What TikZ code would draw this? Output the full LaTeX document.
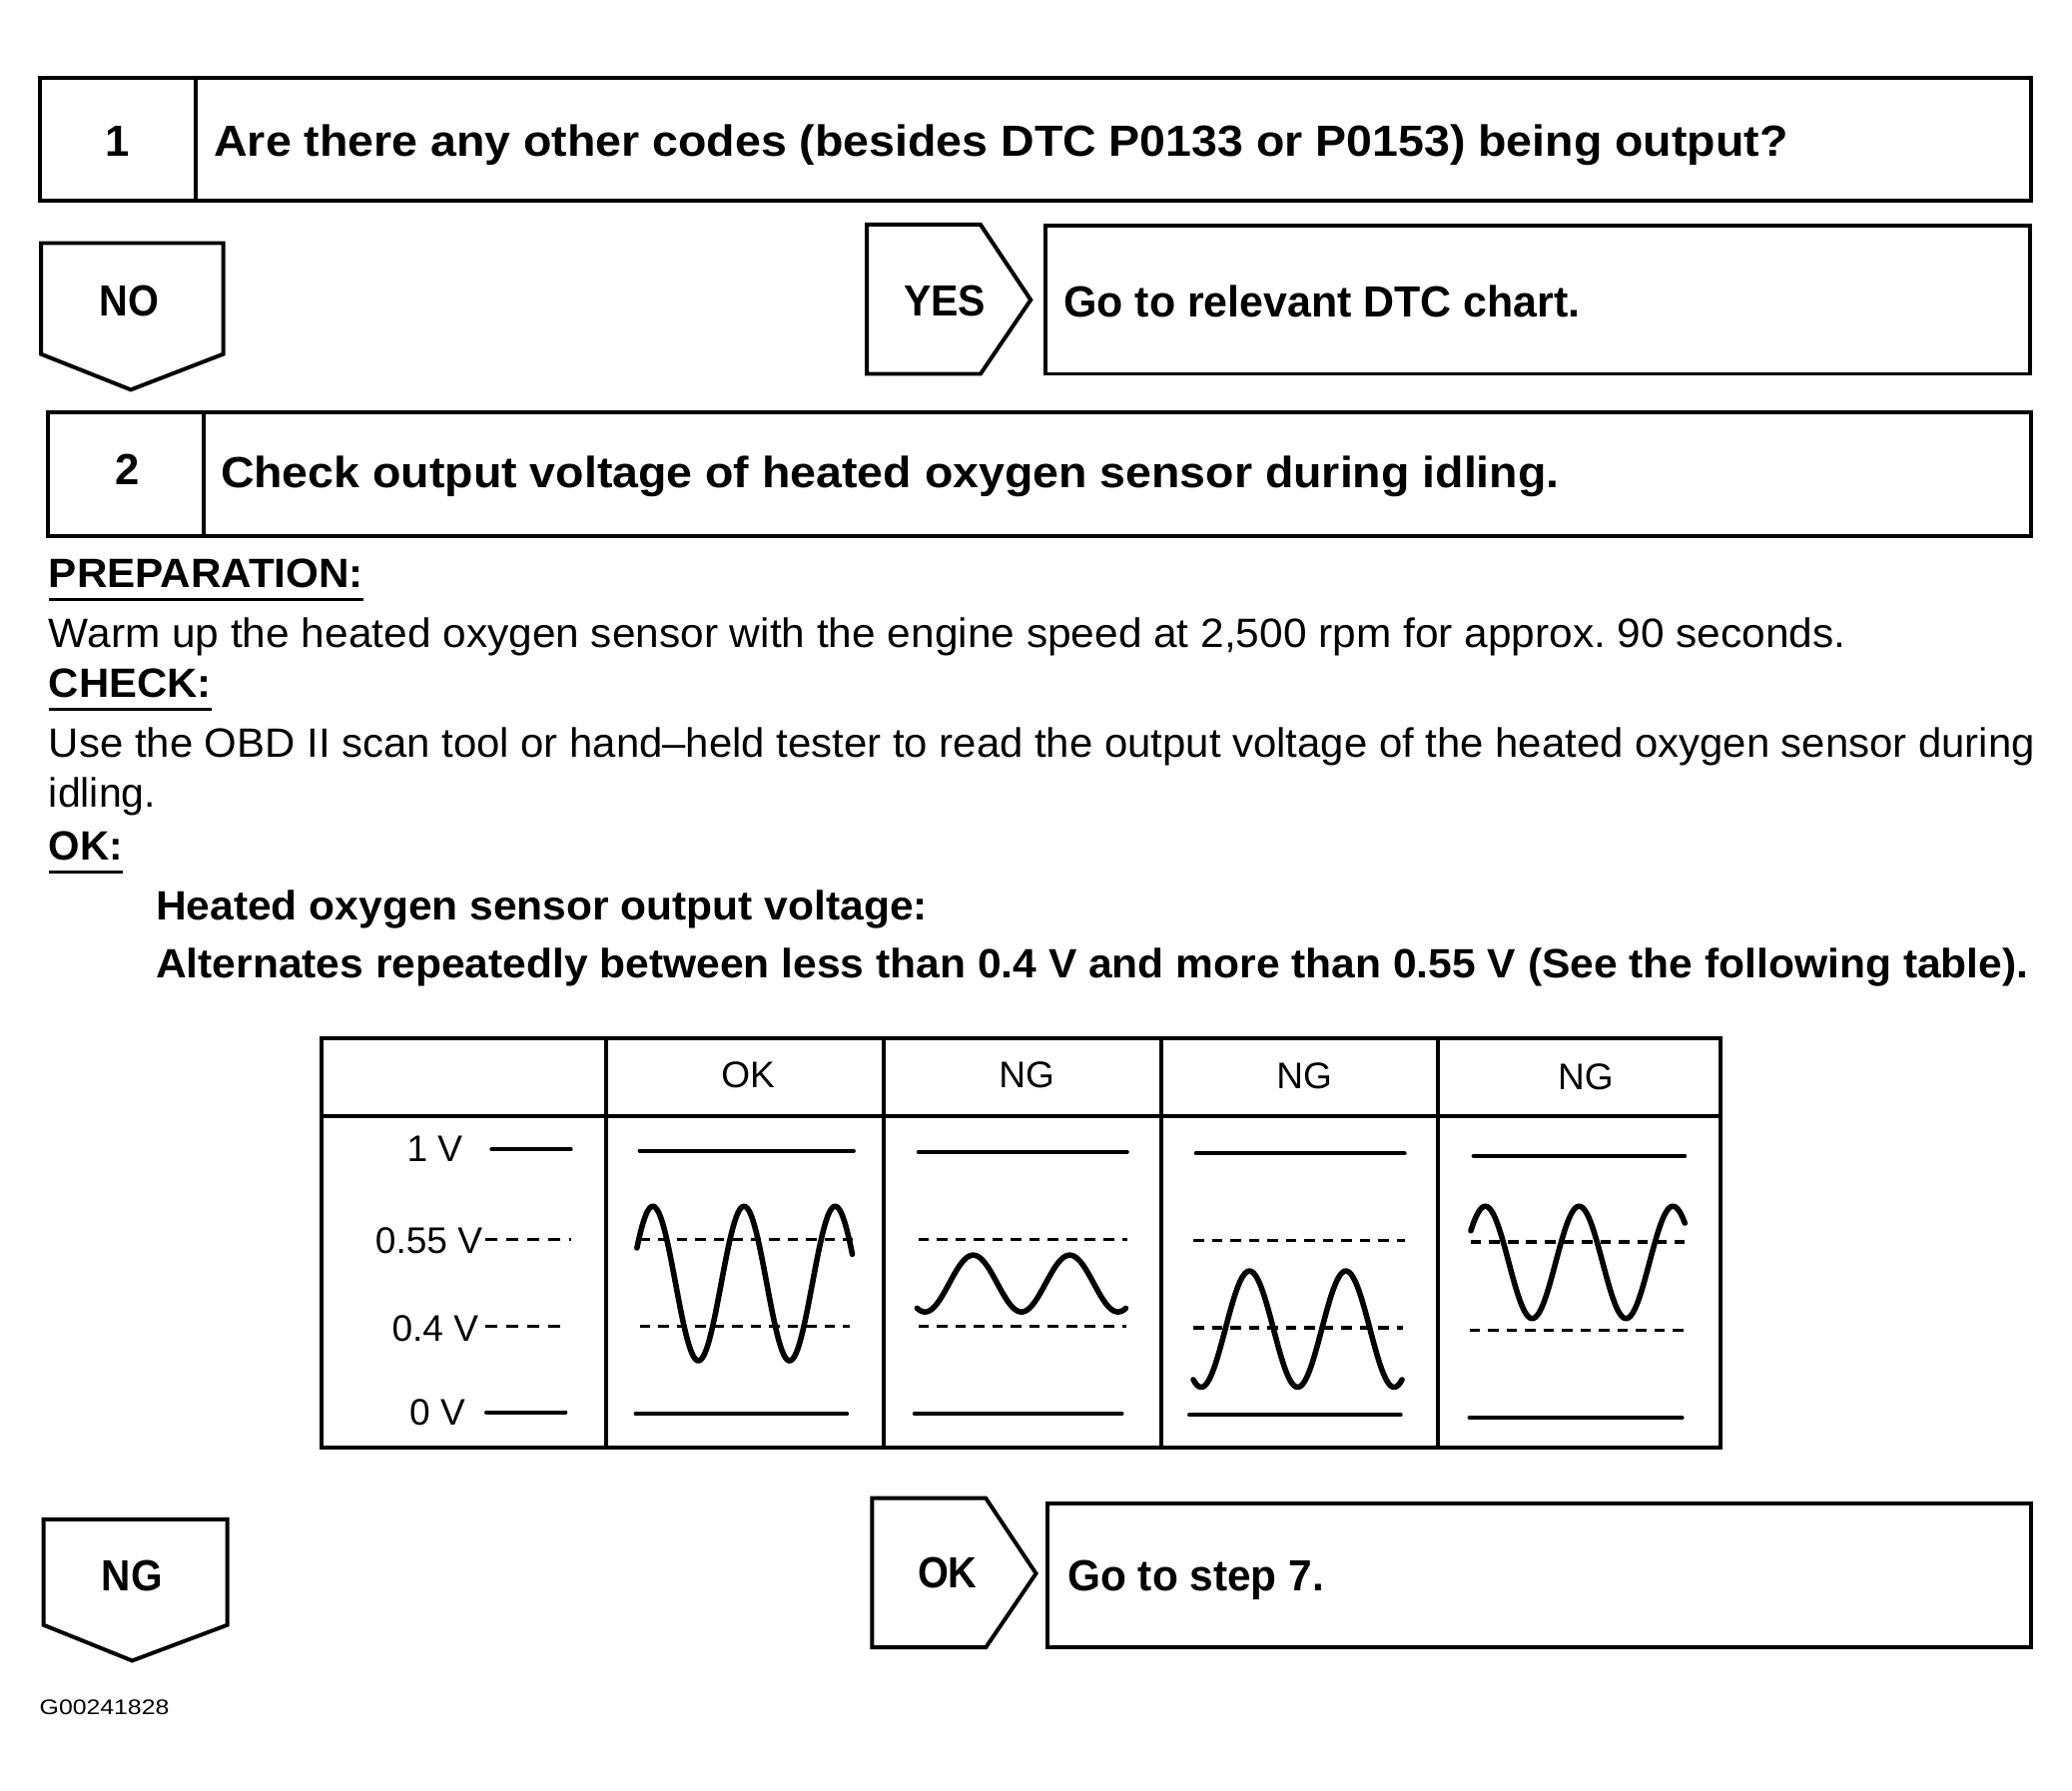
\documentclass[tikz,border=0pt]{standalone}
\usepackage{fontspec}
\setmainfont{Liberation Sans}
\usepackage{graphicx}
\newcommand\fitw[2]{\resizebox{#1}{\height}{#2}}
\frenchspacing
\begin{document}
\frenchspacing
\begin{tikzpicture}[x=1pt,y=-1pt,
  txt/.style={inner sep=0pt, outer sep=0pt, anchor=base west},
  ctxt/.style={inner sep=0pt, outer sep=0pt, anchor=base},
  rtxt/.style={inner sep=0pt, outer sep=0pt, anchor=base east},
  head/.style={font=\fontsize{33}{40}\selectfont\bfseries},
  sub/.style={font=\fontsize{31}{38}\selectfont\bfseries},
  body/.style={font=\fontsize{31}{38}\selectfont},
  tab/.style={font=\fontsize{28}{34}\selectfont},
  frame/.style={draw, line width=3pt, line join=miter},
  uline/.style={line width=2.2pt},
  level/.style={line width=3pt, line cap=round},
  dsh/.style={line width=2.6pt, dash pattern=on 8pt off 6pt},
  wave/.style={line width=4.2pt, line cap=round, line join=round}]
\useasboundingbox (0,0) rectangle (1568,1355);

% ---- step 1 box
\draw[frame] (30,59) rectangle (1537,152);
\draw[frame] (148,59) -- (148,152);
\node[txt,head] (n1) at (80,118) {1};
\node[txt,head] (q1) at (162,118) {\fitw{1191pt}{Are there any other codes (besides DTC P0133 or P0153) being output?}};

% ---- NO / YES
\draw[frame] (31,184) -- (169,184) -- (169,268) -- (99,295) -- (31,268) -- cycle;
\node[ctxt,head] (no) at (98,239) {\fitw{45pt}{NO}};
\draw[frame] (656,170) -- (742,170) -- (780,227) -- (742,283) -- (656,283) -- cycle;
\node[ctxt,head] (yes) at (715,239) {\fitw{62pt}{YES}};
\draw[frame] (791,171) rectangle (1536,283);
\node[txt,head] (dtc) at (805,240) {\fitw{391pt}{Go to relevant DTC chart.}};

% ---- step 2 box
\draw[frame] (36,312) rectangle (1537,406);
\draw[frame] (154,312) -- (154,406);
\node[txt,head] (n2) at (87,367) {2};
\node[txt,head] (q2) at (167,369) {\fitw{1013pt}{Check output voltage of heated oxygen sensor during idling.}};

% ---- preparation / check / ok
\node[txt,sub] (prep) at (37,445) {\fitw{238pt}{PREPARATION:}};
\draw[uline] (37,454) -- (275,454);
\node[txt,body] (warm) at (37,490) {\fitw{1360pt}{Warm up the heated oxygen sensor with the engine speed at 2,500 rpm for approx. 90 seconds.}};
\node[txt,sub] (chk) at (37,528) {\fitw{123pt}{CHECK:}};
\draw[uline] (37,537) -- (160,537);
\node[txt,body] (use) at (37,573) {\fitw{1503pt}{Use the OBD II scan tool or hand–held tester to read the output voltage of the heated oxygen sensor during}};
\node[txt,body] (idl) at (37,611) {idling.};
\node[txt,sub] (okl) at (37,651) {\fitw{56pt}{OK:}};
\draw[uline] (37,660) -- (93,660);
\node[txt,sub] (hos) at (118,696) {\fitw{584pt}{Heated oxygen sensor output voltage:}};
\node[txt,sub] (alt) at (118,740) {\fitw{1417pt}{Alternates repeatedly between less than 0.4 V and more than 0.55 V (See the following table).}};

% ---- table
\draw[frame] (243,786) rectangle (1302,1096);
\draw[frame] (243,845) -- (1302,845);
\foreach \cx in {459,669,879,1088} \draw[frame] (\cx,786) -- (\cx,1096);
\node[ctxt,tab] (hok) at (566,823) {OK};
\node[ctxt,tab] (hng1) at (777,823) {NG};
\node[ctxt,tab] (hng2) at (987,824) {NG};
\node[ctxt,tab] (hng3) at (1200,825) {NG};
\node[rtxt,tab] (v1) at (350,879) {1 V};
\node[rtxt,tab] (v055) at (365,949) {0.55 V};
\node[rtxt,tab] (v04) at (362,1015) {0.4 V};
\node[rtxt,tab] (v0) at (352,1079) {0 V};
\draw[level] (372,870) -- (432,870);
\draw[dsh, dash pattern=on 9pt off 7pt] (367,938) -- (432,938);
\draw[dsh, dash pattern=on 9pt off 7pt] (367,1004) -- (430,1004);
\draw[level] (368,1069) -- (428,1069);

% column OK
\draw[level] (484,871) -- (646,871);
\draw[dsh] (484,938) -- (645,938);
\draw[dsh] (484,1004) -- (643,1004);
\draw[level] (481,1070) -- (641,1070);
\draw[wave] plot[domain=482:645, samples=120, smooth] (\x, {971.5 - 58.5*cos((\x-494)/69*360)});

% column NG 1
\draw[level] (695,872) -- (853,872);
\draw[dsh] (695,938) -- (853,938);
\draw[dsh] (695,1004) -- (852,1004);
\draw[level] (692,1070) -- (849,1070);
\draw[wave] plot[domain=694:852, samples=120, smooth] (\x, {971.5 + 21.5*cos((\x-700)/73*360)});

% column NG 2
\draw[level] (905,873) -- (1063,873);
\draw[dsh] (903,939) -- (1063,939);
\draw[dsh] (903,1005) -- (1062,1005);
\draw[level] (900,1071) -- (1060,1071);
\draw[wave] plot[domain=903:1061, samples=120, smooth] (\x, {1006 + 44*cos((\x-909)/73*360)});

% column NG 3
\draw[level] (1115,875) -- (1275,875);
\draw[dsh] (1113,940) -- (1275,940);
\draw[dsh] (1112,1007) -- (1274,1007);
\draw[level] (1112,1073) -- (1273,1073);
\draw[wave] plot[domain=1113:1275, samples=120, smooth] (\x, {955.5 - 42.5*cos((\x-1124)/71*360)});

% ---- NG / OK
\draw[frame] (33,1150) -- (172,1150) -- (172,1230) -- (100,1257) -- (33,1230) -- cycle;
\node[ctxt,head] (ng) at (100,1204) {\fitw{46pt}{NG}};
\draw[frame] (660,1134) -- (746,1134) -- (784,1191) -- (746,1247) -- (660,1247) -- cycle;
\node[ctxt,head] (ok2) at (717,1202) {\fitw{45pt}{OK}};
\draw[frame] (793,1138) rectangle (1537,1247);
\node[txt,head] (step7) at (808,1204) {\fitw{194pt}{Go to step 7.}};

\node[txt,font=\fontsize{16}{19}\selectfont] (code) at (30,1298) {\fitw{98pt}{G00241828}};
\end{tikzpicture}
\end{document}
